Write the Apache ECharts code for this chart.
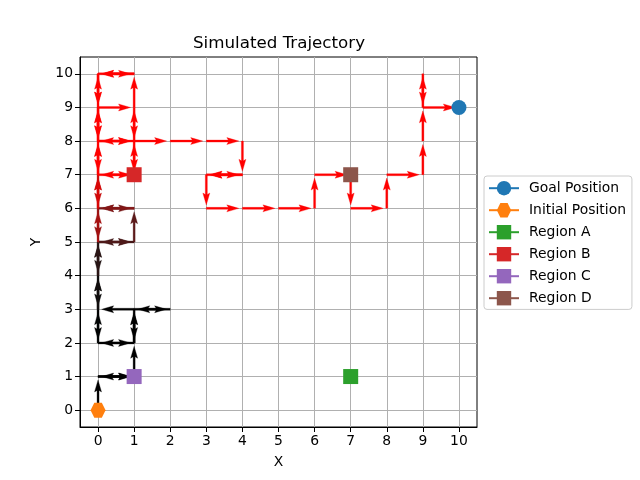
<!DOCTYPE html>
<html>
<head>
<meta charset="utf-8">
<title>Simulated Trajectory</title>
<script src="https://cdn.jsdelivr.net/npm/echarts@6.0.0/dist/echarts.min.js"></script>
<style>
    html, body { margin: 0; padding: 0; background: #fff; }
    #chart { width: 640px; height: 480px; }
</style>
</head>
<body>
<div id="chart"></div>
<script>
// visited states, in order (each step becomes one quiver arrow)
const pathX = [
    0, 0, 1, 0, 1, 1, 0, 1, 1, 1, 1, 2, 1, 0, 0, 0, 0, 0, 0, 0, 0, 0,
    1, 0, 1, 1, 0, 1, 0, 0, 0, 0, 0, 0,
    0, 0, 0, 0, 0, 0, 0, 1, 0, 0, 1, 1, 0, 0, 0, 1, 0, 1, 1, 1, 1, 0, 1, 1,
    2, 3, 4, 4, 3, 4, 3, 3, 4, 5, 6, 6, 7, 7, 8, 8, 9, 9, 9, 9, 9, 10
];
const pathY = [
    0, 1, 1, 1, 1, 2, 2, 2, 3, 2, 3, 3, 3, 3, 2, 3, 4, 3, 4, 5, 4, 5,
    5, 5, 5, 6, 6, 6, 6, 5, 6, 7, 6, 7,
    8, 7, 8, 9, 8, 9, 10, 10, 10, 9, 9, 10, 10, 9, 8, 8, 8, 8, 9, 8, 7, 7, 7, 8,
    8, 8, 8, 7, 7, 7, 7, 6, 6, 6, 6, 7, 7, 6, 6, 7, 7, 8, 9, 10, 9, 9
];

const tickValues = [0, 1, 2, 3, 4, 5, 6, 7, 8, 9, 10];

const markerNames = ['Goal Position', 'Initial Position', 'Region A', 'Region B', 'Region C', 'Region D'];
const markerX = [10, 0, 7, 1, 1, 7];
const markerY = [9, 0, 1, 7, 1, 7];

// 样式
const markerColors = ['#1f77b4', '#ff7f0e', '#2ca02c', '#d62728', '#9467bd', '#8c564b'];
const hexagon = 'path://M-1,0 L-0.5,-0.866 L0.5,-0.866 L1,0 L0.5,0.866 L-0.5,0.866 Z';
const markerSymbols = ['circle', hexagon, 'rect', 'rect', 'rect', 'rect'];
const FONT = 'DejaVu Sans';
const ARROW_SCALE = 0.9;
const SHAFT_WIDTH = 2;
const HEAD_LENGTH = 12;
const HEAD_AXIS = 10.5;
const HEAD_WIDTH = 7;

// quiver style rows: x, y, u, v, step
const arrows = [];
for (let i = 0; i < pathX.length - 1; i++) {
    arrows.push([pathX[i], pathY[i], pathX[i + 1] - pathX[i], pathY[i + 1] - pathY[i], i]);
}

// black early on, fading to red later
function stepColor(step) {
    const t = Math.min(1, Math.max(0, (step - 13) / 21));
    const r = Math.round(255 * Math.pow(t, 1.6));
    const g = Math.round(25 * Math.sin(Math.PI * t));
    return 'rgb(' + r + ',' + g + ',' + g + ')';
}

function renderArrow(params, api) {
    const x = api.value(0);
    const y = api.value(1);
    const tail = api.coord([x, y]);
    const tip = api.coord([x + api.value(2) * ARROW_SCALE, y + api.value(3) * ARROW_SCALE]);
    const dx = tip[0] - tail[0];
    const dy = tip[1] - tail[1];
    const len = Math.hypot(dx, dy) || 1;
    const ux = dx / len;
    const uy = dy / len;
    const nx = -uy;
    const ny = ux;
    const sw = SHAFT_WIDTH / 2;
    const hw = HEAD_WIDTH / 2;
    const base = [tip[0] - ux * HEAD_LENGTH, tip[1] - uy * HEAD_LENGTH];
    const notch = [tip[0] - ux * HEAD_AXIS, tip[1] - uy * HEAD_AXIS];
    const color = stepColor(api.value(4));

    return {
        type: 'polygon',
        shape: {
            points: [
                [tail[0] + nx * sw, tail[1] + ny * sw],
                [notch[0] + nx * sw, notch[1] + ny * sw],
                [base[0] + nx * hw, base[1] + ny * hw],
                tip,
                [base[0] - nx * hw, base[1] - ny * hw],
                [notch[0] - nx * sw, notch[1] - ny * sw],
                [tail[0] - nx * sw, tail[1] - ny * sw]
            ]
        },
        style: {
            fill: color,
            stroke: color,
            lineWidth: 1,
            strokeOpacity: 0.3
        }
    };
}

function makeAxis(name) {
    return {
        type: 'value',
        min: -0.5,
        max: 10.5,
        name: name,
        nameLocation: 'middle',
        nameTextStyle: {color: '#000', fontSize: 13.9, fontFamily: FONT},
        axisLine: {show: true, onZero: false, lineStyle: {color: '#000', width: 1}},
        axisTick: {show: true, length: 5, customValues: tickValues, lineStyle: {color: '#000'}},
        axisLabel: {customValues: tickValues, color: '#000', fontSize: 13.9, fontFamily: FONT, margin: 7},
        splitLine: {show: true, lineStyle: {color: '#b0b0b0', width: 1}}
    };
}

const markerSeries = markerNames.map((name, i) => ({
    name: name,
    type: 'line',
    data: [[markerX[i], markerY[i]]],
    symbol: markerSymbols[i],
    symbolSize: 15,
    showSymbol: true,
    clip: false,
    itemStyle: {color: markerColors[i], opacity: 1},
    lineStyle: {color: markerColors[i], width: 2},
    z: 5
}));

const chart = echarts.init(document.getElementById('chart'));

chart.setOption({
    animation: false,
    backgroundColor: '#fff',
    textStyle: {fontFamily: FONT},
    title: {
        text: 'Simulated Trajectory',
        left: 193,
        top: 35,
        padding: 0,
        textStyle: {color: '#000', fontSize: 16.7, fontWeight: 'normal', fontFamily: FONT}
    },
    grid: {
        left: 80,
        top: 57,
        width: 397,
        height: 370,
        show: true,
        borderColor: '#000',
        borderWidth: 1,
        backgroundColor: 'transparent'
    },
    legend: {
        orient: 'vertical',
        left: 484,
        top: 176,
        data: markerNames,
        itemWidth: 30,
        itemHeight: 18,
        itemGap: 7.6,
        padding: [5, 6, 4, 4],
        borderColor: '#cccccc',
        borderWidth: 1,
        borderRadius: 3,
        textStyle: {color: '#000', fontSize: 13.9, fontFamily: FONT, padding: [0, 0, 0, 5]}
    },
    xAxis: Object.assign(makeAxis('X'), {nameGap: 28}),
    yAxis: Object.assign(makeAxis('Y'), {nameGap: 37}),
    series: [
        {
            type: 'custom',
            renderItem: renderArrow,
            data: arrows,
            encode: {x: 0, y: 1},
            clip: false,
            z: 3
        }
    ].concat(markerSeries)
});
</script>
</body>
</html>
